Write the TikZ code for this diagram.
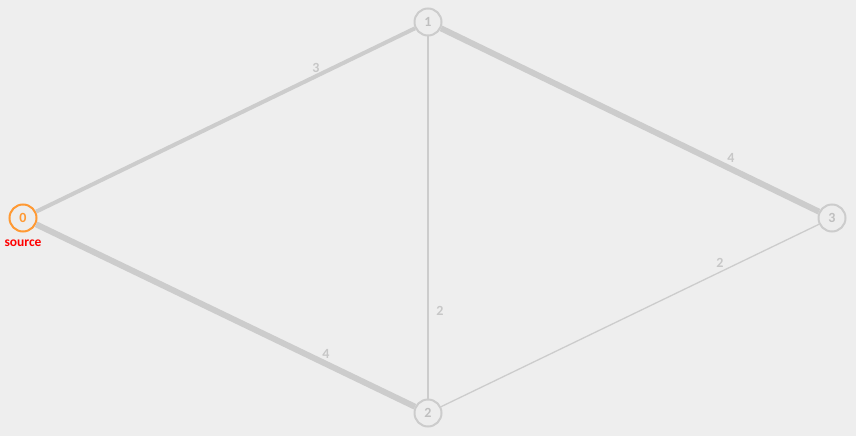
\documentclass[tikz,border=0pt]{standalone}
\usepackage{fontspec}
\setmainfont{Carlito}
\begin{document}
\begin{tikzpicture}[x=1pt,y=-1pt,
  vert/.style={circle,draw=black!20,line width=2pt,fill=black!7,minimum size=27pt,inner sep=0pt,font=\bfseries\fontsize{14}{14}\selectfont,text=black!25},
  edge/.style={draw=black!20},
  wlab/.style={font=\bfseries\fontsize{14}{14}\selectfont,text=black!22}]
\definecolor{bgc}{HTML}{EEEEEE}
\definecolor{org}{HTML}{FF9933}
\fill[bgc] (0,0) rectangle (856,436);
\useasboundingbox (0,0) rectangle (856,436);
\node[vert,draw=org,text=org] (n0) at (23,218) {0};
\node[vert] (n1) at (428,22) {1};
\node[vert] (n2) at (428,413) {2};
\node[vert] (n3) at (832,218) {3};
\node[font=\bfseries\fontsize{13.5}{13.5}\selectfont,text=red] (src) at (23,243) {source};
\draw[edge,line width=4pt] (n0) -- (n1);
\draw[edge,line width=6pt] (n0) -- (n2);
\draw[edge,line width=6pt] (n1) -- (n3);
\draw[edge,line width=2pt] (n1) -- (n2);
\draw[edge,line width=1.3pt] (n2) -- (n3);
\node[wlab] (l01) at (316,68) {3};
\node[wlab] (l12) at (440,311) {2};
\node[wlab] (l13) at (731,158) {4};
\node[wlab] (l23) at (720,263) {2};
\node[wlab] (l02) at (326,354) {4};
\end{tikzpicture}
\end{document}
